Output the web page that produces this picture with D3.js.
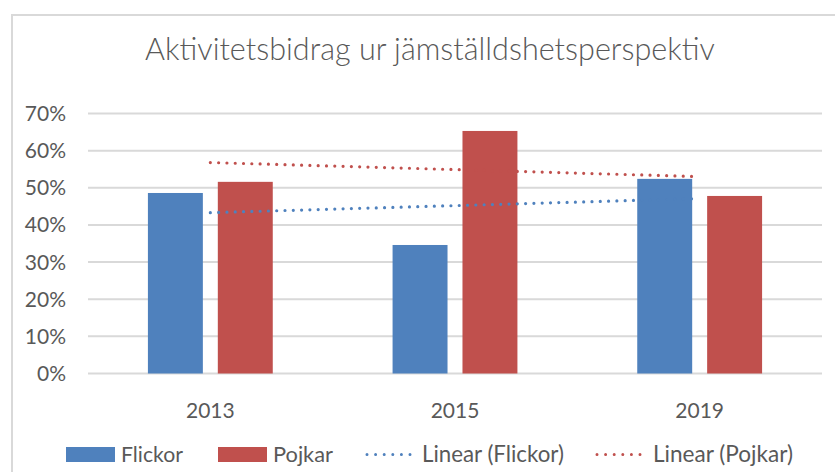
<!DOCTYPE html>
<html>
<head>
<meta charset="utf-8">
<script src="https://cdn.jsdelivr.net/npm/d3@7"></script>
<style>
  body { margin: 0; background: #fff; }
  text { font-family: Lato, "Noto Sans", sans-serif; fill: #595959; }
</style>
</head>
<body>
<div id="chart"></div>
<script>
// data
var years = ["2013", "2015", "2019"];
var series = ["Flickor", "Pojkar"];
var flickor = [0.486, 0.346, 0.524];
var pojkar = [0.516, 0.653, 0.478];
var yTicks = [0, 0.1, 0.2, 0.3, 0.4, 0.5, 0.6, 0.7];
var colors = { Flickor: "#4F81BD", Pojkar: "#C0504D" };
var titleText = "Aktivitetsbidrag ur jämställdshetsperspektiv";

var W = 835, H = 472;
var svg = d3.select("#chart").append("svg")
  .attr("width", W).attr("height", H);

// outer chart border (cut off at right/bottom like the picture)
svg.append("rect")
  .attr("x", 12).attr("y", 15)
  .attr("width", 840).attr("height", 480)
  .attr("fill", "none")
  .attr("stroke", "#d9d9d9")
  .attr("stroke-width", 2);

// shrink/grow a text node so it spans the given width
function fit(sel, width) {
  var fs = parseFloat(sel.attr("font-size"));
  var len = sel.node().getComputedTextLength();
  sel.attr("font-size", (fs * width / len).toFixed(2));
}

var title = svg.append("text")
  .attr("x", 430).attr("y", 60)
  .attr("text-anchor", "middle")
  .attr("font-size", 30)
  .attr("font-weight", 300)
  .text(titleText);
fit(title, 570);

var x0 = d3.scaleBand().domain(years).range([88, 822]);
var x1 = d3.scaleBand().domain(series).range([0, x0.bandwidth()])
  .paddingInner(0.214).paddingOuter(0.857);
var y = d3.scaleLinear().domain([0, 0.7]).range([373.5, 113.5]);

// gridlines
svg.append("g").selectAll("line")
  .data(yTicks)
  .enter().append("line")
    .attr("x1", 88).attr("x2", 822)
    .attr("y1", function(d) { return y(d); })
    .attr("y2", function(d) { return y(d); })
    .attr("stroke", "#d9d9d9")
    .attr("stroke-width", 2);

// y tick labels
var yLab = svg.append("g").selectAll("text")
  .data(yTicks)
  .enter().append("text")
    .attr("x", 66)
    .attr("y", function(d) { return y(d); })
    .attr("dy", "0.36em")
    .attr("text-anchor", "end")
    .attr("font-size", 21)
    .text(d3.format(".0%"));

// x labels
svg.append("g").selectAll("text")
  .data(years)
  .enter().append("text")
    .attr("x", function(d) { return x0(d) + x0.bandwidth() / 2; })
    .attr("y", 418)
    .attr("text-anchor", "middle")
    .attr("font-size", 21)
    .text(function(d) { return d; });

// bars
var rows = years.map(function(yr, i) {
  return { year: yr, Flickor: flickor[i], Pojkar: pojkar[i] };
});

var groups = svg.append("g").selectAll("g")
  .data(rows)
  .enter().append("g")
    .attr("transform", function(d) { return "translate(" + x0(d.year) + ",0)"; });

groups.selectAll("rect")
  .data(function(d) { return series.map(function(s) { return { key: s, value: d[s] }; }); })
  .enter().append("rect")
    .attr("x", function(d) { return x1(d.key); })
    .attr("width", x1.bandwidth())
    .attr("y", function(d) { return y(d.value); })
    .attr("height", function(d) { return y(0) - y(d.value); })
    .attr("fill", function(d) { return colors[d.key]; });

// linear trendlines (least squares over category index 1..n)
function trend(vals) {
  var n = vals.length;
  var xs = vals.map(function(v, i) { return i + 1; });
  var mx = d3.mean(xs), my = d3.mean(vals);
  var num = 0, den = 0;
  xs.forEach(function(xv, i) { num += (xv - mx) * (vals[i] - my); den += (xv - mx) * (xv - mx); });
  var b = num / den, a = my - b * mx;
  return xs.map(function(xv) { return a + b * xv; });
}

var line = d3.line()
  .x(function(d, i) { return x0(years[i]) + x0.bandwidth() / 2; })
  .y(function(d) { return y(d); });

[["Flickor", flickor], ["Pojkar", pojkar]].forEach(function(p) {
  svg.append("path")
    .attr("d", line(trend(p[1])))
    .attr("fill", "none")
    .attr("stroke", colors[p[0]])
    .attr("stroke-width", 3.2)
    .attr("stroke-linecap", "round")
    .attr("stroke-dasharray", "0 8.3");
});

// legend
var legend = [
  { label: "Flickor", type: "bar", color: colors.Flickor, sx: 66, tx: 121, tw: 62 },
  { label: "Pojkar", type: "bar", color: colors.Pojkar, sx: 218, tx: 273, tw: 60 },
  { label: "Linear (Flickor)", type: "dot", color: colors.Flickor, sx: 367, tx: 422, tw: 142 },
  { label: "Linear (Pojkar)", type: "dot", color: colors.Pojkar, sx: 597, tx: 653, tw: 140 }
];
var lg = svg.append("g");
legend.forEach(function(l) {
  if (l.type === "bar") {
    lg.append("rect")
      .attr("x", l.sx).attr("y", 447)
      .attr("width", 49).attr("height", 15)
      .attr("fill", l.color);
  } else {
    lg.append("line")
      .attr("x1", l.sx).attr("x2", l.sx + 44)
      .attr("y1", 454.5).attr("y2", 454.5)
      .attr("stroke", l.color)
      .attr("stroke-width", 3)
      .attr("stroke-linecap", "round")
      .attr("stroke-dasharray", "0 8.6");
  }
  var t = lg.append("text")
    .attr("x", l.tx).attr("y", 462)
    .attr("font-size", 21)
    .text(l.label);
  fit(t, l.tw);
});
</script>
</body>
</html>
